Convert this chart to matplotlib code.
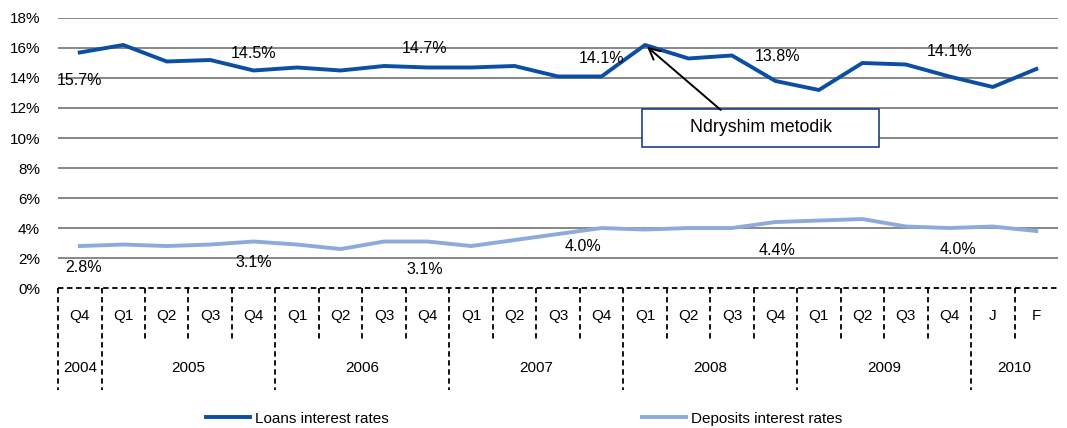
import numpy as np
import matplotlib
matplotlib.use('Agg')
from matplotlib import pyplot as plt
from matplotlib.patches import Rectangle

plt.rcParams['font.family'] = ['Liberation Sans', 'DejaVu Sans']

quarters = ['Q4', 'Q1', 'Q2', 'Q3', 'Q4', 'Q1', 'Q2', 'Q3', 'Q4', 'Q1', 'Q2', 'Q3',
            'Q4', 'Q1', 'Q2', 'Q3', 'Q4', 'Q1', 'Q2', 'Q3', 'Q4', 'J', 'F']
years = ['2004', '2005', '2006', '2007', '2008', '2009', '2010']
year_sizes = [1, 4, 4, 4, 4, 4, 2]

loans = [15.7, 16.2, 15.1, 15.2, 14.5, 14.7, 14.5, 14.8, 14.7, 14.7, 14.8, 14.1,
         14.1, 16.2, 15.3, 15.5, 13.8, 13.2, 15.0, 14.9, 14.1, 13.4, 14.6]
deposits = [2.8, 2.9, 2.8, 2.9, 3.1, 2.9, 2.6, 3.1, 3.1, 2.8, 3.2, 3.6,
            4.0, 3.9, 4.0, 4.0, 4.4, 4.5, 4.6, 4.1, 4.0, 4.1, 3.8]

# which points get a label, and where (offset in points)
loan_labels = {0: (0, -15), 4: (0, 6.5), 8: (-2, 8.5), 12: (0, 7.5), 16: (1.5, 12), 20: (0, 12.5)}
dep_labels = {0: (2.5, -10), 4: (0, -10), 8: (-2, -14.5), 12: (-13, -8), 16: (1, -15), 20: (6.5, -10)}

loan_color = '#0B4EA2'
dep_color = '#8EAADB'
fs = 11

fig = plt.figure(figsize=(10.67, 4.28), dpi=100)
ax = fig.add_axes([0.0544, 0.327, 0.9372, 0.631])

x = np.arange(len(quarters))
ax.plot(x, loans, color=loan_color, lw=2.8, label='Loans interest rates', zorder=3)
ax.plot(x, deposits, color=dep_color, lw=2.8, label='Deposits interest rates', zorder=3)

for i, off in loan_labels.items():
    ax.annotate(f'{loans[i]:.1f}%', (x[i], loans[i]), xytext=off, textcoords='offset points',
                ha='center', va='bottom' if off[1] > 0 else 'top', fontsize=11.5, zorder=4)
for i, off in dep_labels.items():
    ax.annotate(f'{deposits[i]:.1f}%', (x[i], deposits[i]), xytext=off, textcoords='offset points',
                ha='center', va='top', fontsize=11.5, zorder=4)

ax.set_xlim(-0.5, len(quarters) - 0.5)
ax.set_ylim(0, 18)
ax.set_yticks(np.arange(0, 19, 2))
ax.set_yticklabels([f'{v}%' for v in range(0, 19, 2)], fontsize=fs)
ax.tick_params(axis='y', length=0, pad=13)
ax.set_xticks([])
for s in ax.spines.values():
    s.set_visible(False)
for v in range(2, 19, 2):
    ax.axhline(v, color='#878787', lw=1.4, zorder=1)

# category table under the plot
tr = ax.get_xaxis_transform()
ax.plot([-0.5, len(quarters) - 0.5], [0, 0], color='black', lw=1.3, ls=(0, (3, 2)),
        transform=tr, clip_on=False)
year_edges = np.cumsum([0] + year_sizes) - 0.5
for b in np.arange(len(quarters)) - 0.5:
    bottom = -0.378 if b in year_edges else -0.193
    ax.plot([b, b], [0, bottom], color='black', lw=1.3, ls=(0, (3, 2)), transform=tr, clip_on=False)
for i, q in enumerate(quarters):
    ax.text(i, -0.104, q, ha='center', va='center', fontsize=fs, transform=tr)
for k, yr in enumerate(years):
    ax.text((year_edges[k] + year_edges[k + 1]) / 2, -0.296, yr, ha='center', va='center',
            fontsize=fs, transform=tr)

# methodology change note
ax.add_patch(Rectangle((12.93, 9.4), 5.45, 2.53, facecolor='white', edgecolor='#1F3F7F', lw=1.2, zorder=5))
ax.text(15.66, 10.67, 'Ndryshim metodik', ha='center', va='center', fontsize=12.8, zorder=6)
ax.annotate('', xy=(13, loans[13]), xytext=(14.79, 11.75),
            arrowprops=dict(arrowstyle='->', color='black', lw=1.4, mutation_scale=20), zorder=6)

fig.legend(loc='lower left', bbox_to_anchor=(0.180, -0.027), ncol=2, frameon=False, fontsize=fs,
           handlelength=2.9, handletextpad=0.3, columnspacing=16.6)

fig.savefig('out.png', dpi=100)
